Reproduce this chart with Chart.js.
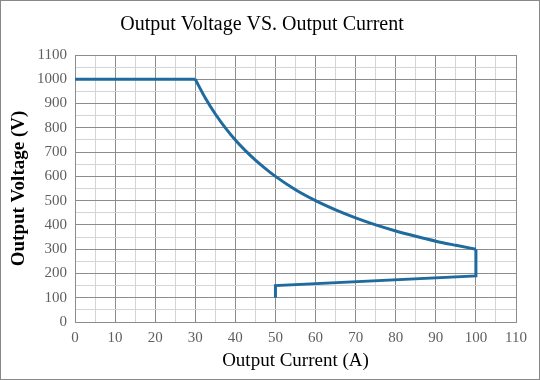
<!DOCTYPE html>
<html><head><meta charset="utf-8">
<script src="https://cdn.jsdelivr.net/npm/chart.js@4"></script>
<style>html,body{margin:0;padding:0;background:#fff}#w{width:540px;height:380px}</style>
</head><body><div id="w"><canvas id="c" width="540" height="380"></canvas></div>
<script>
const flatA = [0, 30];
const flatV = [1000, 1000];
const curveA = [30, 32.5, 35, 37.5, 40, 42.5, 45, 47.5, 50, 55, 60, 65, 70, 75, 80, 85, 90, 95, 100];
const curveV = [1000, 923, 857, 800, 750, 706, 667, 632, 600, 545, 500, 462, 429, 400, 375, 353, 333, 316, 300];
const tailA = [100, 100, 50, 50];
const tailV = [300, 190, 150, 100];
const xTicks = [0,10,20,30,40,50,60,70,80,90,100,110];
const yTicks = [0,100,200,300,400,500,600,700,800,900,1000,1100];

const toPts = (xs,ys)=>xs.map((x,i)=>({x:x,y:ys[i]}));
const major='#8c8c8c', minor='#d4d4d4', lineCol='#1f6b9e';
const ds = (d,t)=>({data:d,showLine:true,borderColor:lineCol,borderWidth:3,pointRadius:0,tension:t,cubicInterpolationMode:t?'monotone':'default',fill:false,borderJoinStyle:'miter'});
const frame={id:'frame',afterDraw(ch){const c=ch.ctx;c.save();c.strokeStyle='#888';c.lineWidth=1;c.strokeRect(0.5,0.5,539,379);c.restore();}};
new Chart(document.getElementById('c'),{
  type:'scatter',
  data:{datasets:[ds(toPts(flatA,flatV),0),ds(toPts(curveA,curveV),0.4),ds(toPts(tailA,tailV),0)]},
  options:{
    responsive:false,animation:false,
    layout:{padding:{left:8,right:24,top:0,bottom:8}},
    plugins:{legend:{display:false},tooltip:{enabled:false},
      title:{display:true,text:'Output Voltage VS. Output Current',color:'#000',font:{family:'Liberation Serif',size:20,weight:'normal',lineHeight:1.2},padding:{top:13,bottom:18}}},
    scales:{
      x:{type:'linear',min:0,max:110,
        afterBuildTicks(s){const t=[];for(let v=0;v<=110;v+=5)t.push({value:v});s.ticks=t;},
        afterFit(s){s.height=50;},
        ticks:{autoSkip:false,maxRotation:0,padding:7,color:'#5f5f5f',font:{family:'Liberation Serif',size:15},
          callback:(v)=>xTicks.includes(v)?String(v):''},
        grid:{drawTicks:false,color:(c)=>c.tick&&c.tick.value%10===0?major:minor,lineWidth:1},
        border:{color:major},
        title:{display:true,text:'Output Current (A)',color:'#000',font:{family:'Liberation Serif',size:19},padding:{top:0,bottom:0}}},
      y:{type:'linear',min:0,max:1100,
        afterBuildTicks(s){const t=[];for(let v=0;v<=1100;v+=50)t.push({value:v});s.ticks=t;},
        afterFit(s){s.width=67;},
        ticks:{autoSkip:false,padding:8,color:'#5f5f5f',font:{family:'Liberation Serif',size:15},
          callback:(v)=>yTicks.includes(v)?String(v):''},
        grid:{drawTicks:false,color:(c)=>c.tick&&c.tick.value%100===0?major:minor,lineWidth:1},
        border:{color:major},
        title:{display:true,text:'Output Voltage (V)',color:'#000',font:{family:'Liberation Serif',size:19,weight:'bold'},padding:{top:0,bottom:2}}}
    }
  },
  plugins:[frame]
});
</script></body></html>
